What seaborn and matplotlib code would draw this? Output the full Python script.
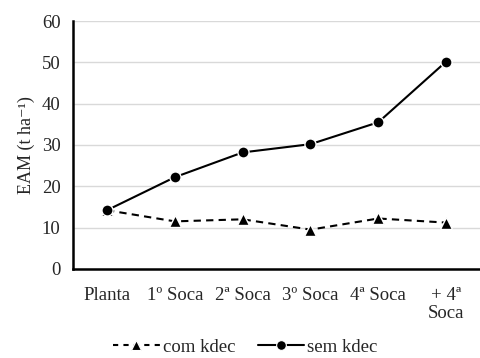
import numpy as np
import pandas as pd
import matplotlib
matplotlib.use("Agg")
import matplotlib.pyplot as plt
from matplotlib.lines import Line2D
import seaborn as sns

categories = ["Planta", "1º Soca", "2ª Soca", "3º Soca", "4ª Soca", "+ 4ª\nSoca"]
com_kdec = [14.2, 11.5, 12.0, 9.5, 12.2, 11.2]
sem_kdec = [14.2, 22.2, 28.2, 30.2, 35.5, 50.2]

sns.set_style("white")
plt.rcParams["font.family"] = ["Liberation Serif", "DejaVu Serif"]

FS = 13.5

pos = np.arange(len(categories)) + 0.5
df = pd.DataFrame({
    "pos": np.concatenate([pos, pos]),
    "EAM": com_kdec + sem_kdec,
    "serie": ["com kdec"] * len(pos) + ["sem kdec"] * len(pos),
})

fig = plt.figure(figsize=(4.81, 3.58), dpi=100)
ax = fig.add_axes([0.152, 0.249, 0.846, 0.692])

sns.lineplot(
    data=df, x="pos", y="EAM", style="serie",
    markers={"com kdec": "^", "sem kdec": "o"},
    dashes={"com kdec": (3.5, 2.5), "sem kdec": ""},
    color="black", linewidth=1.5, markersize=8,
    markeredgecolor="white", markeredgewidth=1.0,
    legend=False, ax=ax,
)

ax.set_xlim(0, len(categories))
ax.set_ylim(0, 60)
ax.set_yticks(range(0, 61, 10))
ax.set_xticks(range(0, len(categories) + 1))
ax.set_xticklabels([])
ax.set_xticks(pos, minor=True)
ax.set_xticklabels(categories, minor=True, linespacing=1.1)
ax.tick_params(axis="x", which="minor", length=0, pad=13, labelsize=FS)
ax.tick_params(axis="x", which="major", length=5, width=1.2, direction="out", color="black")
ax.tick_params(axis="y", length=6, width=1.2, direction="out", color="black", labelsize=FS, pad=3)
ax.set_xlabel("")
ax.set_ylabel("EAM (t ha\u207b\u00b9)", fontsize=13, labelpad=5)

ax.yaxis.grid(True, color="#d9d9d9", linewidth=1.0)
ax.xaxis.grid(False)
ax.set_axisbelow(True)
for side in ["top", "right"]:
    ax.spines[side].set_visible(False)
for side in ["left", "bottom"]:
    ax.spines[side].set_color("black")
    ax.spines[side].set_linewidth(1.8)

handles = [
    Line2D([], [], color="black", linestyle=(0, (2.5, 2.5)), linewidth=1.5,
           marker="^", markersize=7, markeredgecolor="white", markeredgewidth=0.8),
    Line2D([], [], color="black", linestyle="-", linewidth=1.5,
           marker="o", markersize=7, markeredgecolor="white", markeredgewidth=0.8),
]
fig.legend(handles, ["com kdec", "sem kdec"], loc="lower center",
           bbox_to_anchor=(0.51, 0.006), ncol=2, frameon=False, fontsize=FS,
           borderpad=0.0, borderaxespad=0.0,
           handlelength=2.5, handletextpad=0.15, columnspacing=1.2)

fig.savefig("out.png", dpi=100)
